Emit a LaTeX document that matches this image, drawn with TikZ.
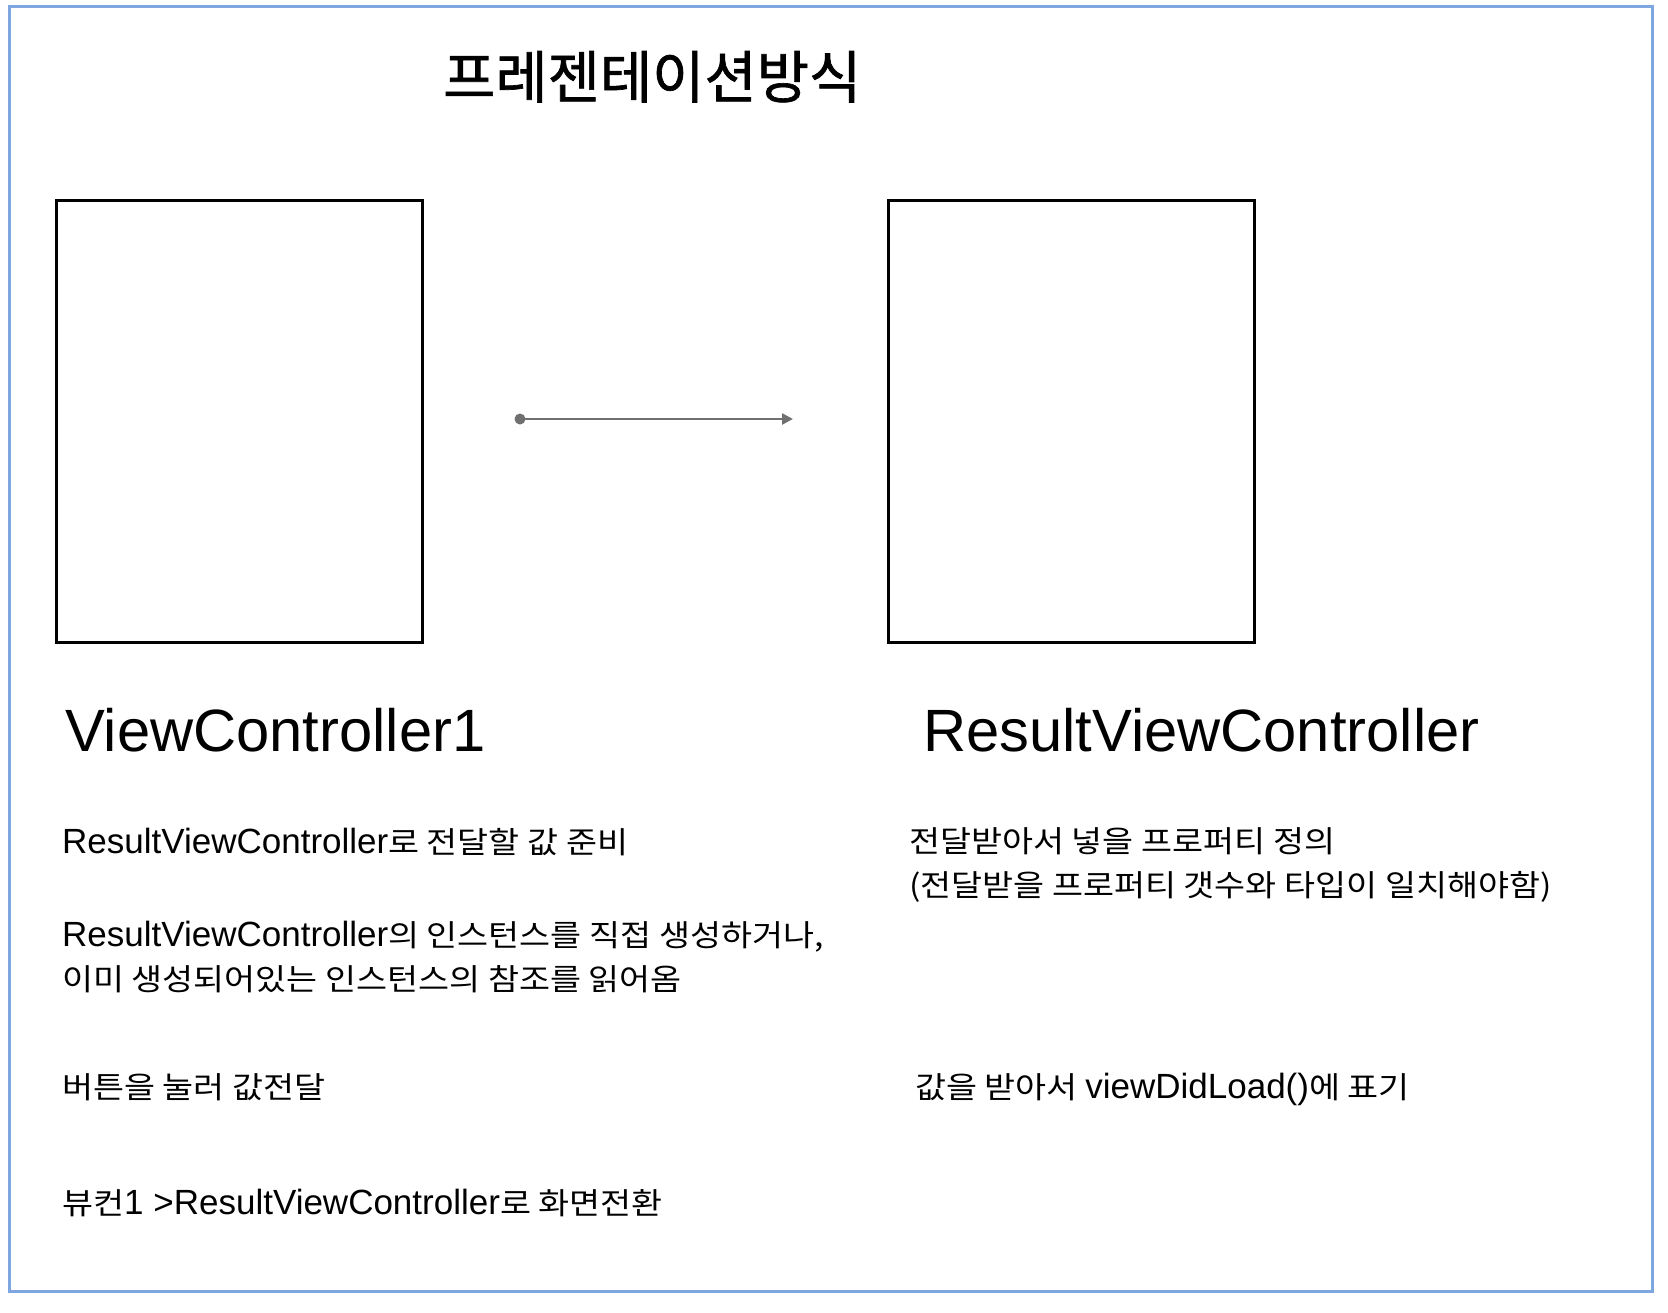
\documentclass[tikz,border=0pt]{standalone}
\usepackage{fontspec}
\setmainfont{Liberation Sans}
\newfontfamily\kr[Scale=0.86,FakeStretch=1.12]{Noto Sans CJK KR}
\newfontfamily\krtitle[FakeBold=1.2]{Noto Sans CJK KR}
\usetikzlibrary{arrows.meta}
\definecolor{framecol}{RGB}{126,166,224}
\definecolor{arrowcol}{RGB}{112,112,112}
\tikzset{
  screen/.style={draw=black, line width=2.7pt, minimum width=366pt, minimum height=442pt, inner sep=0pt},
  body/.style={anchor=base west, inner sep=0pt, font=\fontsize{35}{44}\selectfont},
  biglabel/.style={anchor=base west, inner sep=0pt, font=\fontsize{59.7}{70}\selectfont},
  link/.style={draw=arrowcol, line width=2.5pt, -{Triangle[length=11pt,width=11pt]}},
}
\begin{document}
\begin{tikzpicture}[x=1pt,y=-1pt]
\useasboundingbox (0,0) rectangle (1668,1312);
\draw[framecol, line width=3pt] (9.5,6.5) rectangle (1652,1291);

\node[anchor=base west, inner sep=0pt, font=\fontsize{56.8}{64}\selectfont\krtitle] (title) at (443,98) {프레젠테이션방식};

\node[screen, anchor=north west] (vc1) at (55,199) {};
\node[screen, anchor=north west] (rvc) at (887,199) {};

\coordinate (as) at (520,419);
\coordinate (ae) at (793,419);
\draw[link] (as) -- (ae);
\fill[arrowcol] (as) circle (5.5pt);

\node[biglabel] (lbl1) at (65,751) {ViewController1};
\node[biglabel] (lbl2) at (923,751) {ResultViewController};

\node[body] (l1) at (62,853) {ResultViewController{\kr 로 전달할 값 준비}};
\node[body] (l2) at (62,946) {ResultViewController{\kr 의 인스턴스를 직접 생성하거나,}};
\node[body] (l3) at (62,990) {\kr 이미 생성되어있는 인스턴스의 참조를 읽어옴};
\node[body] (l4) at (62,1098) {\kr 버튼을 눌러 값전달};
\node[body] (l5) at (62,1214) {{\kr 뷰컨}1 {>}ResultViewController{\kr 로 화면전환}};

\node[body] (r1) at (909,852) {\kr 전달받아서 넣을 프로퍼티 정의};
\node[body] (r2) at (909,896) {{\kr (전달받을 프로퍼티 갯수와 타입이 일치해야함)}};
\node[body] (r3) at (915,1098) {{\kr 값을 받아서 }viewDidLoad(){\kr 에 표기}};
\end{tikzpicture}
\end{document}
